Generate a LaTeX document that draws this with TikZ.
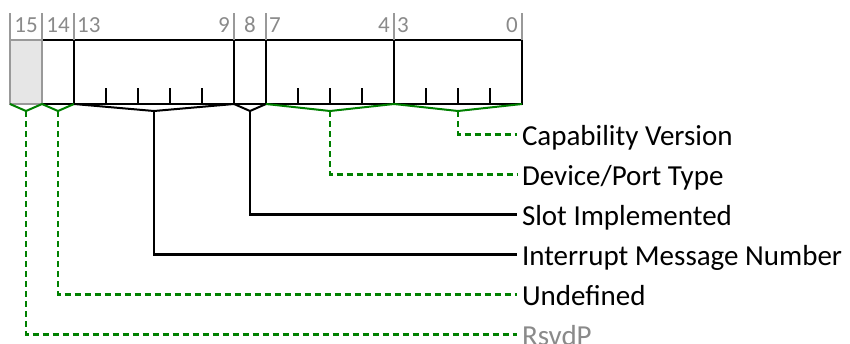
\documentclass[tikz,border=0pt]{standalone}
\usepackage{fontspec}
\setmainfont{Carlito}
\definecolor{grn}{HTML}{008000}
\definecolor{numgray}{HTML}{8A8A8A}
\definecolor{rsvfill}{HTML}{E6E6E6}
\definecolor{rsvline}{HTML}{999999}
\begin{document}
\begin{tikzpicture}[x=1pt,y=-1pt,
  field/.style={draw=black, line width=2.6pt, minimum height=64pt, inner sep=0pt, outer sep=0pt},
  rsvdfield/.style={field, draw=rsvline, fill=rsvfill},
  tickmark/.style={black, line width=2pt},
  bitline/.style={rsvline, line width=1.5pt},
  bitnum/.style={text=numgray, inner sep=0pt, font=\fontsize{23}{26}\selectfont},
  bracek/.style={black, line width=2pt},
  braceg/.style={grn, line width=2pt},
  connk/.style={black, line width=2.4pt},
  conng/.style={grn, line width=2.4pt, dash pattern=on 6pt off 4pt},
  lbl/.style={anchor=west, inner sep=0pt, outer xsep=5pt, text height=23pt, text depth=1pt, font=\fontsize{29}{34}\selectfont}
]
\useasboundingbox (0,0) rectangle (850,343);
% fields
\node[field, minimum width=32pt] (f14) at (58,72) {};
\node[field, minimum width=160pt] (f13) at (154,72) {};
\node[field, minimum width=32pt] (f8) at (250,72) {};
\node[field, minimum width=128pt] (f7) at (330,72) {};
\node[field, minimum width=128pt] (f3) at (458,72) {};
\node[rsvdfield, minimum width=32pt] (f15) at (26,72) {};
% ticks
\foreach \i in {1,...,4} \draw[tickmark] ([xshift={\i*32pt}]f13.south west) -- ++(0,-16);
\foreach \i in {1,...,3} \draw[tickmark] ([xshift={\i*32pt}]f7.south west) -- ++(0,-16);
\foreach \i in {1,...,3} \draw[tickmark] ([xshift={\i*32pt}]f3.south west) -- ++(0,-16);
% bit boundary lines
\foreach \n in {f15,f14,f13,f8,f7,f3} \draw[bitline] (\n.north west) -- ++(0,-27);
\draw[bitline] (f3.north east) -- ++(0,-27);
% bit numbers
\node[bitnum, anchor=base] (n15) at (26,32) {15};
\node[bitnum, anchor=base] (n14) at (58,32) {14};
\node[bitnum, anchor=base west] (n13) at (77,32) {13};
\node[bitnum, anchor=base east] (n9) at (230,32) {9};
\node[bitnum, anchor=base] (n8) at (250,32) {8};
\node[bitnum, anchor=base west] (n7) at (269,32) {7};
\node[bitnum, anchor=base east] (n4) at (390,32) {4};
\node[bitnum, anchor=base west] (n3) at (397,32) {3};
\node[bitnum, anchor=base east] (n0) at (518,32) {0};
% brace points
\foreach \n in {f15,f14,f13,f8,f7,f3} \coordinate (b\n) at ([yshift=-7pt]\n.south);
\draw[braceg] (f15.south west) -- (bf15) -- (f15.south east);
\draw[braceg] (f14.south west) -- (bf14) -- (f14.south east);
\draw[bracek] (f13.south west) -- (bf13) -- (f13.south east);
\draw[bracek] (f8.south west) -- (bf8) -- (f8.south east);
\draw[braceg] (f7.south west) -- (bf7) -- (f7.south east);
\draw[braceg] (f3.south west) -- (bf3) -- (f3.south east);
% labels
\node[lbl] (l3) at (517,134.5) {Capability Version};
\node[lbl] (l7) at (517,174.5) {Device/Port Type};
\node[lbl] (l8) at (517,214.5) {Slot Implemented};
\node[lbl] (l13) at (517,254.5) {Interrupt Message Number};
\node[lbl] (l14) at (517,294.5) {Undefined};
\node[lbl, text=numgray] (l15) at (517,334.5) {RsvdP};
% connectors
\draw[conng] (bf3) |- (l3.west);
\draw[conng] (bf7) |- (l7.west);
\draw[connk] (bf8) |- (l8.west);
\draw[connk] (bf13) |- (l13.west);
\draw[conng] (bf14) |- (l14.west);
\draw[conng] (bf15) |- (l15.west);
\end{tikzpicture}
\end{document}
